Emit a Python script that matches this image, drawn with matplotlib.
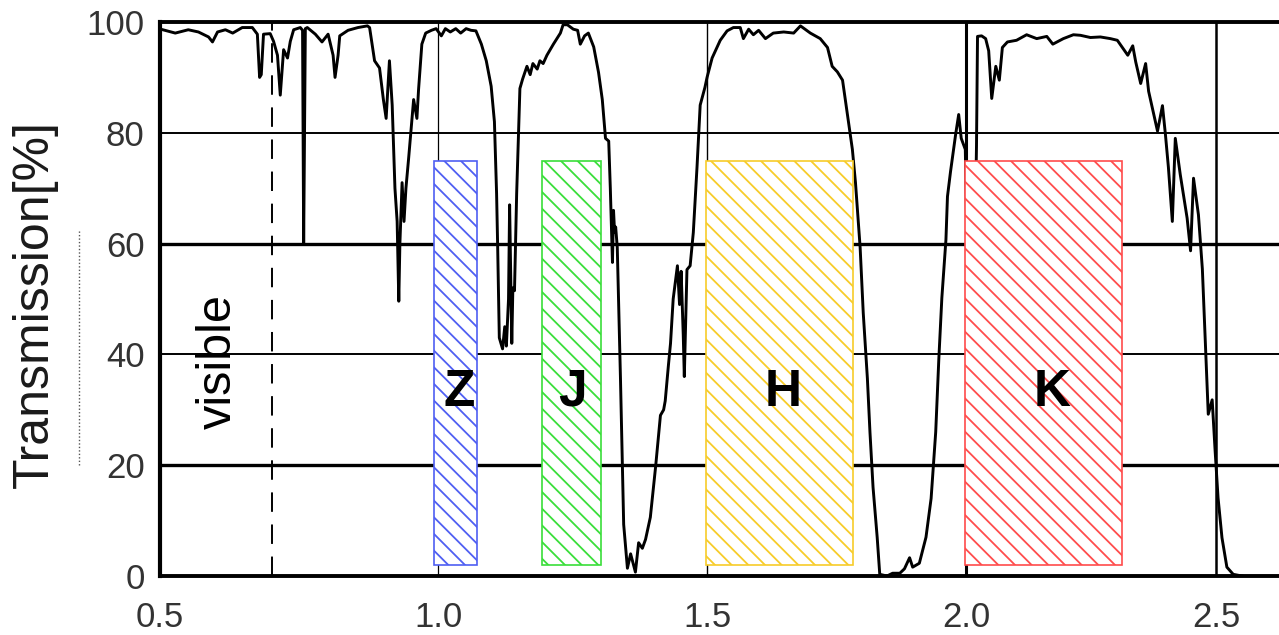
import numpy as np
import matplotlib
matplotlib.use('Agg')
import matplotlib.pyplot as plt
from matplotlib.lines import Line2D
from matplotlib.patches import Rectangle

# atmospheric transmission
wavelength = [0.505, 0.527, 0.550, 0.568, 0.586, 0.593, 0.602, 0.616, 0.629, 0.646,
              0.664, 0.673, 0.677, 0.680, 0.684, 0.696, 0.702, 0.709, 0.714, 0.720,
              0.727, 0.732, 0.738, 0.750, 0.754, 0.756, 0.759, 0.7625, 0.777, 0.789,
              0.800, 0.809, 0.8125, 0.818, 0.821, 0.836, 0.854, 0.871, 0.875, 0.884,
              0.893, 0.900, 0.905, 0.911, 0.916, 0.921, 0.925, 0.928, 0.930, 0.934,
              0.9375, 0.941, 0.946, 0.955, 0.961, 0.964, 0.970, 0.977, 0.9875, 0.996,
              1.0056, 1.013, 1.022, 1.032, 1.041, 1.051, 1.060, 1.069, 1.079, 1.088,
              1.097, 1.103, 1.107, 1.109, 1.112, 1.118, 1.122, 1.125, 1.129, 1.131,
              1.133, 1.135, 1.137, 1.140, 1.144, 1.150, 1.155, 1.163, 1.169, 1.174,
              1.182, 1.187, 1.193, 1.200, 1.212, 1.225, 1.230, 1.238, 1.249, 1.257,
              1.262, 1.270, 1.277, 1.287, 1.296, 1.303, 1.309, 1.315, 1.318, 1.322,
              1.324, 1.326, 1.328, 1.331, 1.337, 1.343, 1.350, 1.356, 1.360, 1.365,
              1.371, 1.378, 1.384, 1.393, 1.403, 1.412, 1.418, 1.421, 1.427, 1.431,
              1.436, 1.444, 1.448, 1.451, 1.455, 1.457, 1.461, 1.462, 1.468, 1.474,
              1.481, 1.487, 1.496, 1.500, 1.5096, 1.525, 1.538, 1.550, 1.563, 1.569,
              1.579, 1.588, 1.598, 1.611, 1.626, 1.646, 1.665, 1.678, 1.697, 1.716,
              1.730, 1.739, 1.749, 1.759, 1.764, 1.770, 1.778, 1.784, 1.793, 1.799,
              1.807, 1.812, 1.818, 1.826, 1.831, 1.845, 1.856, 1.870, 1.879, 1.889,
              1.895, 1.908, 1.921, 1.931, 1.940, 1.946, 1.952, 1.960, 1.963, 1.969,
              1.979, 1.985, 1.990, 1.998, 2.004, 2.016, 2.020, 2.022, 2.030, 2.038,
              2.044, 2.050, 2.058, 2.065, 2.071, 2.081, 2.099, 2.119, 2.139, 2.159,
              2.171, 2.192, 2.212, 2.226, 2.246, 2.266, 2.286, 2.300, 2.310, 2.321,
              2.331, 2.337, 2.347, 2.357, 2.363, 2.371, 2.381, 2.391, 2.397, 2.403,
              2.411, 2.417, 2.427, 2.441, 2.448, 2.454, 2.464, 2.472, 2.478, 2.484,
              2.492, 2.498, 2.504, 2.512, 2.522, 2.535, 2.553]
transmission = [98.6, 98.0, 98.6, 98.2, 97.3, 96.4, 98.2, 98.6, 98.0, 99.0,
                99.0, 97.8, 90.0, 90.5, 97.8, 97.9, 96.5, 94.0, 86.8, 95.0,
                93.5, 96.5, 98.6, 99.0, 98.5, 60.0, 98.8, 99.0, 97.8, 96.4,
                97.8, 94.0, 90.0, 94.0, 97.5, 98.5, 99.0, 99.3, 99.0, 93.0,
                91.7, 86.0, 82.6, 93.0, 85.0, 70.0, 64.0, 49.6, 60.0, 71.0,
                64.0, 70.0, 75.5, 86.0, 82.6, 87.8, 96.0, 98.0, 98.5, 98.8,
                97.5, 98.8, 98.2, 98.8, 98.0, 98.8, 98.5, 98.4, 96.0, 93.0,
                88.4, 82.0, 69.0, 59.3, 43.0, 41.0, 45.0, 41.5, 50.0, 67.0,
                55.0, 42.0, 52.0, 51.5, 69.0, 88.0, 89.7, 92.0, 90.5, 92.5,
                91.5, 93.0, 92.5, 94.0, 96.0, 98.0, 99.5, 99.5, 98.7, 98.5,
                96.0, 97.5, 98.0, 95.5, 90.9, 86.0, 79.0, 78.5, 70.0, 56.6,
                66.0, 62.0, 63.0, 59.3, 35.6, 9.3, 1.4, 4.0, 2.5, 0.7,
                6.0, 5.0, 6.6, 10.6, 19.8, 29.0, 30.0, 31.6, 38.0, 42.0,
                50.0, 56.0, 49.0, 55.0, 43.5, 36.0, 52.0, 55.3, 56.0, 62.0,
                73.8, 85.0, 88.2, 90.0, 93.5, 96.7, 98.4, 99.0, 99.0, 97.0,
                98.7, 97.7, 98.5, 97.0, 98.0, 98.2, 98.0, 99.3, 98.0, 97.0,
                95.4, 92.0, 91.0, 89.5, 86.2, 82.3, 77.0, 71.0, 59.3, 47.5,
                35.7, 26.0, 16.0, 7.0, 0.3, 0.0, 0.5, 0.5, 1.3, 3.3,
                1.6, 2.3, 7.0, 14.0, 26.0, 39.0, 50.2, 60.7, 68.5, 73.0,
                79.7, 83.3, 79.0, 77.0, 45.0, 55.0, 77.7, 97.4, 97.5, 97.0,
                94.8, 86.2, 92.0, 89.5, 95.4, 96.4, 96.7, 97.7, 97.0, 97.4,
                96.0, 97.0, 97.7, 97.6, 97.2, 97.3, 97.0, 96.7, 95.4, 94.0,
                95.7, 92.8, 88.9, 92.5, 87.5, 84.3, 80.3, 84.9, 79.7, 73.8,
                64.0, 79.0, 72.5, 64.6, 58.7, 71.8, 65.2, 55.4, 42.3, 29.2,
                31.8, 22.6, 14.1, 6.9, 1.6, 0.3, 0.0]

# filter bands
bands = ['Z', 'J', 'H', 'K']
band_lo = [0.993, 1.191, 1.498, 1.998]
band_hi = [1.071, 1.300, 1.780, 2.310]
band_bottom = 2
band_top = 75
band_label_x = [1.039, 1.247, 1.644, 2.169]
band_colors = ['#4f5ff2', '#3ade3a', '#f7cc2a', '#ff4c4c']

visible_edge = 0.7

x_ticks = [0.5, 1.0, 1.5, 2.0, 2.5]
x_tick_labels = ['0.5', '1.0', '1.5', '2.0', '2.5']
y_ticks = [0, 20, 40, 60, 80, 100]


# the original x axis is slightly compressed towards long wavelengths
def fwd(x):
    x = np.asarray(x, dtype=float)
    return 585 * x - 19 * x ** 2


def inv(p):
    p = np.asarray(p, dtype=float)
    return (585 - np.sqrt(np.maximum(585 ** 2 - 76 * p, 0))) / 38


plt.rcParams['font.family'] = ['Liberation Sans', 'DejaVu Sans']
plt.rcParams['hatch.linewidth'] = 1.3

fig = plt.figure(figsize=(12.79, 6.35), dpi=100)
ax = fig.add_axes([160 / 1279, 59 / 635, 1119 / 1279, 554 / 635])
ax.set_xscale('function', functions=(fwd, inv))
ax.set_xlim(0.5, 2.629)
ax.set_ylim(0, 100)

# grid lines
hline_width = {20: 2.4, 40: 1.4, 60: 2.4, 80: 1.4}
for yv in y_ticks[1:-1]:
    ax.axhline(yv, color='black', lw=hline_width[yv], zorder=1)
vline_width = {1.0: 0.9, 1.5: 1.0, 2.0: 2.2, 2.5: 1.8}
for xv in x_ticks[1:]:
    ax.axvline(xv, color='black', lw=vline_width[xv], zorder=1)

ax.axvline(visible_edge, color='black', lw=1.4, ls=(0, (10, 6.5)), zorder=1)

# transmission curve
ax.plot(wavelength, transmission, color='black', lw=2.1, zorder=3,
        solid_joinstyle='round')

# hatched filter boxes
for name, lo, hi, lx, c in zip(bands, band_lo, band_hi, band_label_x, band_colors):
    ax.add_patch(Rectangle((lo, band_bottom), hi - lo, band_top - band_bottom,
                           facecolor='white', edgecolor=c, hatch='\\\\',
                           lw=1.2, zorder=4))
    ax.text(lx, 30.7, name, fontsize=37, fontweight='bold', ha='center',
            va='baseline', zorder=5)

ax.text(0.6036, 38.8, 'visible', rotation=90, fontsize=35, ha='center',
        va='center', zorder=5)

ax.set_xticks(x_ticks)
ax.set_xticklabels(x_tick_labels)
ax.set_yticks(y_ticks)
ax.tick_params(axis='both', length=0, labelsize=25, labelcolor='#333333')
ax.tick_params(axis='x', pad=18)
ax.tick_params(axis='y', pad=11)
ax.minorticks_off()

ax.spines['right'].set_visible(False)
ax.spines['left'].set_linewidth(3)
ax.spines['bottom'].set_linewidth(2.8)
ax.spines['top'].set_linewidth(2.8)

fig.text(35 / 1279, 0.521, 'Transmission[%]', rotation=90, fontsize=36,
         ha='center', va='center', color='#1a1a1a')
fig.add_artist(Line2D([79 / 1279, 79 / 1279], [0.268, 0.638],
                      transform=fig.transFigure, color='#555555', lw=1,
                      ls=(0, (1, 1.5))))

fig.savefig('out.png', dpi=100, facecolor='white')
